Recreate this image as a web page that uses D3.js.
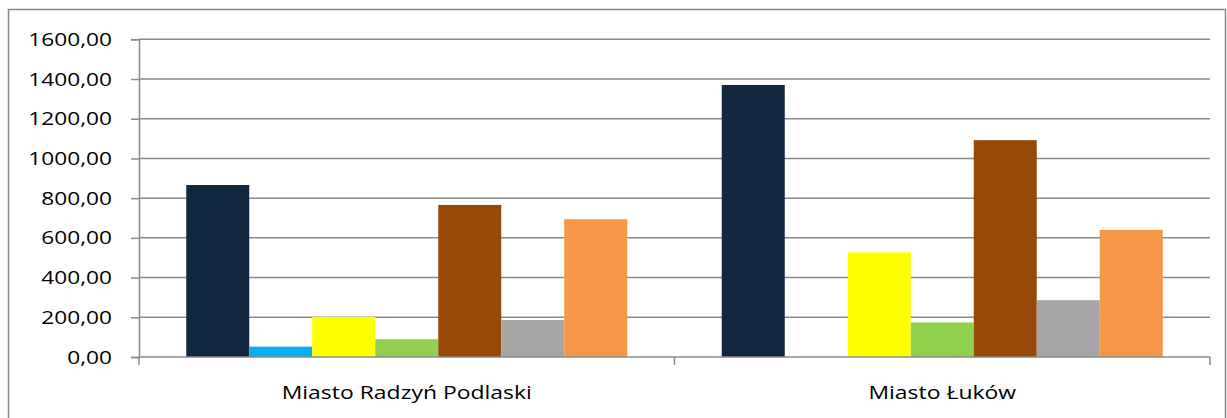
<!DOCTYPE html>
<html>
<head>
<meta charset="utf-8">
<script src="https://cdn.jsdelivr.net/npm/d3@7"></script>
<style>
  html, body { margin: 0; padding: 0; background: #fff; }
  svg { display: block; }
  text { font-family: 'Open Sans', sans-serif; fill: #000; }
</style>
</head>
<body>
<div class="chart"></div>
<script>
// categories and series values
const categories = ['Miasto Radzyń Podlaski', 'Miasto Łuków']
const seriesNames = ['Seria 1', 'Seria 2', 'Seria 3', 'Seria 4', 'Seria 5', 'Seria 6', 'Seria 7']
const seriesColors = ['#12263F', '#00B0F0', '#FFFF00', '#92D050', '#984807', '#A6A6A6', '#F79646']
const radzynValues = [866, 52, 202, 90, 766, 186, 694]
const lukowValues = [1370, null, 527, 174, 1092, 286, 640]
const yTicks = [0, 200, 400, 600, 800, 1000, 1200, 1400, 1600]

const values = [radzynValues, lukowValues]

function drawBars (container) {
  const fullWidth = 1227
  const fullHeight = 418
  const plot = { left: 139, right: 1210, top: 39.3, bottom: 357 }
  const textStretch = 1.22

  const fmt = d3.formatLocale({ decimal: ',', thousands: '', grouping: [3], currency: ['', ''] }).format('.2f')

  const svg = d3.select(container)
    .append('svg')
      .attr('width', fullWidth)
      .attr('height', fullHeight)

  // outer frame
  svg.append('rect')
    .attr('x', 8.5)
    .attr('y', 9.5)
    .attr('width', 1217)
    .attr('height', 420)
    .attr('fill', 'none')
    .attr('stroke', '#878787')
    .attr('stroke-width', 1.5)

  // scales
  const yScale = d3.scaleLinear()
    .domain([0, 1600])
    .range([plot.bottom, plot.top])

  const x0 = d3.scaleBand()
    .domain(categories)
    .range([plot.left, plot.right])
    .padding(0)

  const x1 = d3.scaleBand()
    .domain(seriesNames)
    .range([0, x0.bandwidth()])
    .paddingInner(0)
    .paddingOuter(0.75)

  // gridlines
  svg.append('g')
    .selectAll('line')
    .data(yTicks.filter(t => t > 0))
    .enter()
      .append('line')
      .attr('x1', plot.left)
      .attr('x2', plot.right)
      .attr('y1', d => yScale(d))
      .attr('y2', d => yScale(d))
      .attr('stroke', '#8a8a8a')
      .attr('stroke-width', 1.5)

  // bars
  const group = svg.append('g')
    .selectAll('g')
    .data(categories)
    .enter()
      .append('g')
      .attr('transform', d => `translate(${x0(d)}, 0)`)

  group.selectAll('rect')
    .data((d, i) => seriesNames.map((s, j) => ({ s, color: seriesColors[j], v: values[i][j] })))
    .enter()
      .filter(d => d.v != null)
      .append('rect')
      .attr('x', d => x1(d.s))
      .attr('y', d => yScale(d.v))
      .attr('width', x1.bandwidth())
      .attr('height', d => plot.bottom - yScale(d.v))
      .attr('fill', d => d.color)

  // y axis
  const yAxis = d3.axisLeft(yScale)
    .tickValues(yTicks)
    .tickSize(8)
    .tickFormat('')
  const yG = svg.append('g')
    .attr('transform', `translate(${plot.left}, 0)`)
    .call(yAxis)
  yG.selectAll('line, path').attr('stroke', '#8a8a8a').attr('stroke-width', 1.5)

  svg.append('g')
    .selectAll('text')
    .data(yTicks)
    .enter()
      .append('text')
      .attr('transform', d => `translate(112, ${yScale(d) + 6.6}) scale(${textStretch}, 1)`)
      .attr('text-anchor', 'end')
      .style('font-size', '18.6px')
      .text(d => fmt(d))

  // x axis with ticks at category boundaries
  const xG = svg.append('g')
  xG.append('line')
    .attr('x1', plot.left)
    .attr('x2', plot.right)
    .attr('y1', plot.bottom)
    .attr('y2', plot.bottom)
    .attr('stroke', '#8a8a8a')
    .attr('stroke-width', 1.5)
  xG.selectAll('.tick')
    .data(categories.map(c => x0(c)).concat([plot.right]))
    .enter()
      .append('line')
      .attr('x1', d => d)
      .attr('x2', d => d)
      .attr('y1', plot.bottom)
      .attr('y2', plot.bottom + 8)
      .attr('stroke', '#8a8a8a')
      .attr('stroke-width', 1.5)

  svg.append('g')
    .selectAll('text')
    .data(categories)
    .enter()
      .append('text')
      .attr('transform', d => `translate(${x0(d) + x0.bandwidth() / 2}, 399) scale(${textStretch}, 1)`)
      .attr('text-anchor', 'middle')
      .style('font-size', '18.8px')
      .text(d => d)

  return svg
}

drawBars('.chart')
</script>
</body>
</html>
